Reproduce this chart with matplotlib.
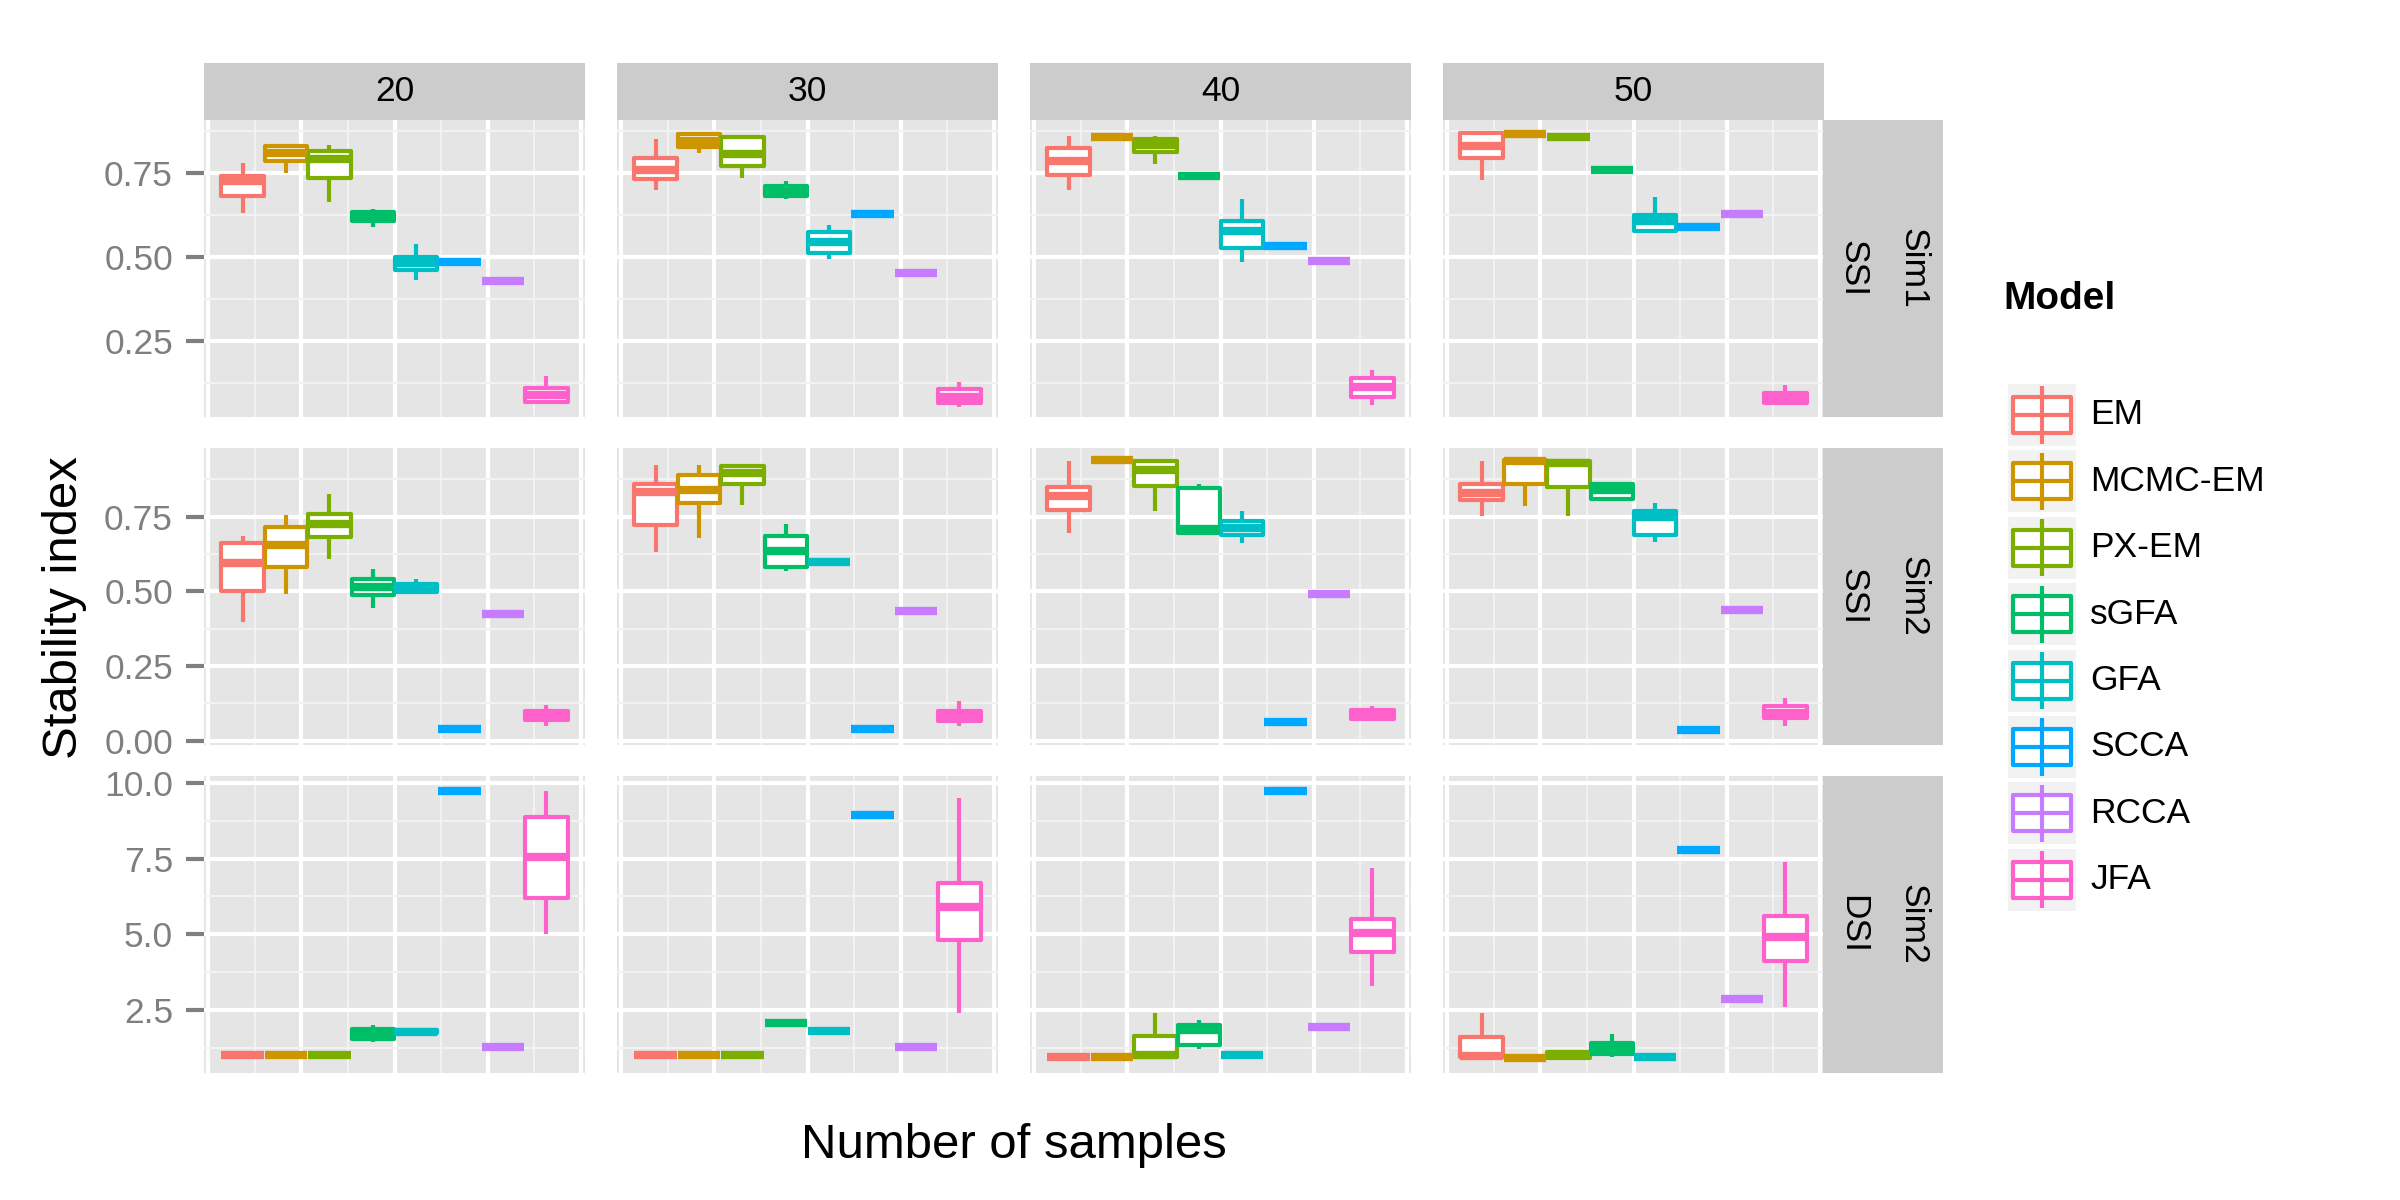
import numpy as np
import matplotlib
matplotlib.use("Agg")
import matplotlib.pyplot as plt
from matplotlib.patches import Rectangle

plt.rcParams['font.family'] = ['Liberation Sans', 'DejaVu Sans']

models = ['EM', 'MCMC-EM', 'PX-EM', 'sGFA', 'GFA', 'SCCA', 'RCCA', 'JFA']
colors = ['#F8766D', '#CD9600', '#7CAE00', '#00BE67', '#00BFC4', '#00A9FF', '#C77CFF', '#FF61CC']
sample_sizes = ['20', '30', '40', '50']
row_labels = [('Sim1', 'SSI'), ('Sim2', 'SSI'), ('Sim2', 'DSI')]

# (lower whisker, q1, median, q3, upper whisker), one tuple per model
sim1_ssi_20 = [(0.63, 0.68, 0.725, 0.74, 0.78), (0.748, 0.786, 0.81, 0.83, 0.837),
               (0.664, 0.735, 0.79, 0.815, 0.833), (0.59, 0.606, 0.62, 0.634, 0.641),
               (0.43, 0.462, 0.482, 0.50, 0.538), (0.483, 0.483, 0.483, 0.483, 0.483),
               (0.429, 0.429, 0.429, 0.429, 0.429), (0.061, 0.069, 0.089, 0.109, 0.144)]
sim1_ssi_30 = [(0.70, 0.731, 0.757, 0.794, 0.85), (0.81, 0.827, 0.844, 0.866, 0.866),
               (0.735, 0.769, 0.805, 0.856, 0.856), (0.671, 0.681, 0.696, 0.71, 0.725),
               (0.494, 0.51, 0.544, 0.5725, 0.594), (0.628, 0.628, 0.628, 0.628, 0.628),
               (0.453, 0.453, 0.453, 0.453, 0.453), (0.053, 0.065, 0.084, 0.106, 0.128)]
sim1_ssi_40 = [(0.70, 0.742, 0.784, 0.824, 0.859), (0.855, 0.855, 0.855, 0.855, 0.855),
               (0.775, 0.811, 0.834, 0.85, 0.859), (0.74, 0.74, 0.74, 0.74, 0.74),
               (0.484, 0.527, 0.578, 0.605, 0.671), (0.531, 0.531, 0.531, 0.531, 0.531),
               (0.487, 0.487, 0.487, 0.487, 0.487), (0.059, 0.084, 0.112, 0.14, 0.163)]
sim1_ssi_50 = [(0.728, 0.794, 0.831, 0.869, 0.869), (0.866, 0.866, 0.866, 0.866, 0.866),
               (0.856, 0.856, 0.856, 0.856, 0.856), (0.759, 0.759, 0.759, 0.759, 0.759),
               (0.574, 0.578, 0.606, 0.625, 0.678), (0.588, 0.588, 0.588, 0.588, 0.588),
               (0.628, 0.628, 0.628, 0.628, 0.628), (0.06, 0.065, 0.08, 0.094, 0.117)]

sim2_ssi_20 = [(0.399, 0.502, 0.595, 0.661, 0.685), (0.49, 0.582, 0.654, 0.717, 0.756),
               (0.61, 0.683, 0.726, 0.759, 0.827), (0.445, 0.488, 0.515, 0.543, 0.574),
               (0.498, 0.498, 0.512, 0.524, 0.543), (0.04, 0.04, 0.04, 0.04, 0.04),
               (0.424, 0.424, 0.424, 0.424, 0.424), (0.05, 0.07, 0.088, 0.10, 0.12)]
sim2_ssi_30 = [(0.632, 0.722, 0.833, 0.861, 0.924), (0.68, 0.796, 0.84, 0.889, 0.924),
               (0.79, 0.861, 0.896, 0.921, 0.921), (0.567, 0.583, 0.635, 0.685, 0.726),
               (0.597, 0.597, 0.597, 0.597, 0.597), (0.039, 0.039, 0.039, 0.039, 0.039),
               (0.433, 0.433, 0.433, 0.433, 0.433), (0.049, 0.065, 0.083, 0.101, 0.132)]
sim2_ssi_40 = [(0.694, 0.771, 0.82, 0.851, 0.9375), (0.94, 0.94, 0.94, 0.94, 0.94),
               (0.768, 0.854, 0.905, 0.935, 0.935), (0.6875, 0.694, 0.708, 0.847, 0.861),
               (0.6625, 0.6875, 0.7125, 0.736, 0.768), (0.0625, 0.0625, 0.0625, 0.0625, 0.0625),
               (0.493, 0.493, 0.493, 0.493, 0.493), (0.065, 0.072, 0.087, 0.104, 0.118)]
sim2_ssi_50 = [(0.754, 0.806, 0.83, 0.86, 0.9375), (0.787, 0.86, 0.935, 0.94, 0.94),
               (0.754, 0.851, 0.93, 0.936, 0.936), (0.803, 0.808, 0.84, 0.858, 0.86),
               (0.667, 0.69, 0.75, 0.77, 0.796), (0.035, 0.035, 0.035, 0.035, 0.035),
               (0.437, 0.437, 0.437, 0.437, 0.437), (0.05, 0.077, 0.094, 0.118, 0.143)]

sim2_dsi_20 = [(1.0, 1.0, 1.0, 1.0, 1.0), (1.0, 1.0, 1.0, 1.0, 1.0),
               (1.0, 1.0, 1.0, 1.0, 1.0), (1.43, 1.53, 1.70, 1.87, 2.0),
               (1.72, 1.75, 1.78, 1.82, 1.85), (9.75, 9.75, 9.75, 9.75, 9.75),
               (1.26, 1.26, 1.26, 1.26, 1.26), (5.0, 6.2, 7.55, 8.87, 9.75)]
sim2_dsi_30 = [(1.0, 1.0, 1.0, 1.0, 1.0), (1.0, 1.0, 1.0, 1.0, 1.0),
               (1.0, 1.0, 1.0, 1.0, 1.0), (2.05, 2.05, 2.05, 2.05, 2.05),
               (1.8, 1.8, 1.8, 1.8, 1.8), (8.95, 8.95, 8.95, 8.95, 8.95),
               (1.27, 1.27, 1.27, 1.27, 1.27), (2.4, 4.8, 5.9, 6.7, 9.5)]
sim2_dsi_40 = [(0.95, 0.95, 0.95, 0.95, 0.95), (0.95, 0.95, 0.95, 0.95, 0.95),
               (0.95, 0.95, 1.0, 1.65, 2.4), (1.2, 1.35, 1.85, 2.0, 2.15),
               (1.0, 1.0, 1.0, 1.0, 1.0), (9.75, 9.75, 9.75, 9.75, 9.75),
               (1.95, 1.95, 1.95, 1.95, 1.95), (3.3, 4.4, 5.05, 5.5, 7.2)]
sim2_dsi_50 = [(0.95, 0.95, 0.97, 1.6, 2.4), (0.92, 0.92, 0.92, 0.92, 0.92),
               (0.9, 0.9, 1.0, 1.1, 1.1), (0.95, 1.05, 1.2, 1.4, 1.7),
               (0.95, 0.95, 0.95, 0.95, 0.95), (7.8, 7.8, 7.8, 7.8, 7.8),
               (2.85, 2.85, 2.85, 2.85, 2.85), (2.6, 4.1, 4.9, 5.6, 7.4)]

panels = [[sim1_ssi_20, sim1_ssi_30, sim1_ssi_40, sim1_ssi_50],
          [sim2_ssi_20, sim2_ssi_30, sim2_ssi_40, sim2_ssi_50],
          [sim2_dsi_20, sim2_dsi_30, sim2_dsi_40, sim2_dsi_50]]

y_limits = [(0.023, 0.907), (-0.014, 0.98), (0.414, 10.23)]
y_major = [[0.25, 0.50, 0.75], [0.0, 0.25, 0.50, 0.75], [2.5, 5.0, 7.5, 10.0]]
y_minor = [[0.125, 0.375, 0.625, 0.875], [0.125, 0.375, 0.625, 0.875], [1.25, 3.75, 6.25, 8.75]]
y_fmt = ['{:.2f}', '{:.2f}', '{:.1f}']

W, H = 2400, 1200
fig = plt.figure(figsize=(8, 4), dpi=300)


def px_axes(x0, y0, w, h):
    return fig.add_axes([x0 / W, 1 - (y0 + h) / H, w / W, h / H])


col_left = [204, 617, 1030, 1443]
row_top = [120, 448, 776]
pw, ph = 381, 297
grey = '#7F7F7F'

x_major = [3.5 + 2.15 * k for k in range(-2, 3)]
x_minor = [3.5 + 2.15 * k + 1.075 for k in range(-2, 2)]

for r in range(3):
    for c in range(4):
        ax = px_axes(col_left[c], row_top[r], pw, ph)
        ax.set_facecolor('#E5E5E5')
        for s in ax.spines.values():
            s.set_visible(False)
        ax.set_xlim(-0.89, 7.89)
        ax.set_ylim(*y_limits[r])
        ax.set_xticks(x_major)
        ax.set_xticks(x_minor, minor=True)
        ax.set_yticks(y_major[r])
        ax.set_yticks(y_minor[r], minor=True)
        ax.grid(which='major', color='white', lw=1.0)
        ax.grid(which='minor', color='#F2F2F2', lw=0.5)
        ax.set_axisbelow(True)
        ax.tick_params(axis='x', which='both', length=0, labelbottom=False)
        ax.tick_params(axis='y', which='minor', length=0)
        if c == 0:
            ax.set_yticklabels([y_fmt[r].format(v) for v in y_major[r]])
            ax.tick_params(axis='y', which='major', length=4.25, width=1.0, color=grey,
                           labelcolor=grey, labelsize=8.5, pad=3.2)
        else:
            ax.tick_params(axis='y', which='major', length=0, labelleft=False)

        stats = [dict(whislo=s[0], q1=s[1], med=s[2], q3=s[3], whishi=s[4])
                 for s in panels[r][c]]
        art = ax.bxp(stats, positions=np.arange(len(models)), widths=0.98,
                     patch_artist=True, showfliers=False, showcaps=False,
                     manage_ticks=False,
                     boxprops=dict(lw=1.0, joinstyle='round'),
                     medianprops=dict(lw=2.0, solid_capstyle='butt'),
                     whiskerprops=dict(lw=1.0, solid_capstyle='butt'))
        for i, col in enumerate(colors):
            art['boxes'][i].set_facecolor('white')
            art['boxes'][i].set_edgecolor(col)
            art['medians'][i].set_color(col)
            art['whiskers'][2 * i].set_color(col)
            art['whiskers'][2 * i + 1].set_color(col)

# column strips
for c in range(4):
    sax = px_axes(col_left[c], 63, pw, 57)
    sax.set_facecolor('#CCCCCC')
    sax.set_xticks([]); sax.set_yticks([])
    for s in sax.spines.values():
        s.set_visible(False)
    sax.text(0.5, 0.5, sample_sizes[c], ha='center', va='center', fontsize=8.5,
             transform=sax.transAxes)

# row strips
for r in range(3):
    sax = px_axes(1823, row_top[r], 120, ph)
    sax.set_facecolor('#CCCCCC')
    sax.set_xticks([]); sax.set_yticks([])
    for s in sax.spines.values():
        s.set_visible(False)
    sim, measure = row_labels[r]
    sax.text(0.25, 0.5, measure, ha='center', va='center', rotation=-90,
             fontsize=8.5, transform=sax.transAxes)
    sax.text(0.75, 0.5, sim, ha='center', va='center', rotation=-90,
             fontsize=8.5, transform=sax.transAxes)

# legend drawn by hand, ggplot style keys
lax = fig.add_axes([0, 0, 1, 1])
lax.set_xlim(0, W)
lax.set_ylim(H, 0)
lax.axis('off')
lax.text(2003, 299, 'Model', ha='left', va='center', fontsize=9.3, fontweight='bold')
key_x0, key_w, key_h, step = 2008, 68, 62, 66.4
for i, (name, col) in enumerate(zip(models, colors)):
    cy = 415 + i * step
    lax.add_patch(Rectangle((key_x0, cy - key_h / 2), key_w, key_h, facecolor='#F2F2F2',
                            edgecolor='none'))
    bx0, bx1 = key_x0 + 0.075 * key_w, key_x0 + 0.93 * key_w
    lax.plot([key_x0 + key_w / 2] * 2, [cy - 0.46 * key_h, cy + 0.46 * key_h],
             color=col, lw=1.0, solid_capstyle='butt')
    lax.add_patch(Rectangle((bx0, cy - 0.29 * key_h), bx1 - bx0, 0.58 * key_h,
                            facecolor='white', edgecolor=col, lw=1.0, joinstyle='round'))
    lax.plot([bx0, bx1], [cy, cy], color=col, lw=1.0, solid_capstyle='butt')
    lax.text(2090, cy, name, ha='left', va='center', fontsize=8.5)

fig.text(1014 / W, 1 - 1146 / H, 'Number of samples', ha='center', va='center', fontsize=11.8)
fig.text(65 / W, 1 - 608 / H, 'Stability index', ha='center', va='center', rotation=90,
         fontsize=11.8)

fig.savefig('out.png', dpi=300)
